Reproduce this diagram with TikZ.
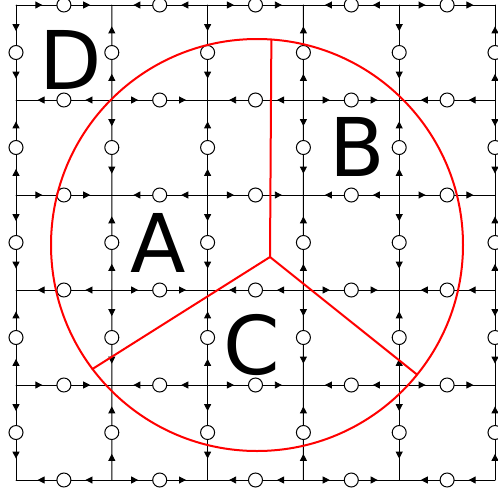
\documentclass[tikz,border=0pt]{standalone}
\usepackage{fontspec}
\setmainfont{DejaVu Sans}
\usetikzlibrary{arrows.meta,decorations.markings,backgrounds,calc}

\begin{document}
\begin{tikzpicture}[x=1pt, y=-1pt,
        site/.style={circle, draw=black, fill=white, line width=1pt, inner sep=0pt, minimum size=14pt},
        bond/.style={draw=black, line width=0.9pt, line cap=round, postaction={decorate},
            decoration={markings, mark=at position 0.55 with {\arrow{Triangle[length=7pt, width=7pt]}}}},
        cut/.style={draw=red, line width=2pt, line cap=round},
        tag/.style={font=\fontsize{81}{81}\selectfont, inner sep=0pt, anchor=base}
    ]
        \useasboundingbox (0,0) rectangle (498,496);

        % lattice vertices
        \foreach \i in {0,...,5}
            \foreach \j in {0,...,5}
                \coordinate (v-\i-\j) at ({16+95.8*\i}, {5+95*\j});

        % sites on the edges
        \foreach \i in {0,...,4}
            \foreach \j in {0,...,5} {
                \pgfmathtruncatemacro\ni{\i+1}
                \node[site] (h-\i-\j) at ($(v-\i-\j)!0.5!(v-\ni-\j)$) {};
            }
        \foreach \i in {0,...,5}
            \foreach \j in {0,...,4} {
                \pgfmathtruncatemacro\nj{\j+1}
                \node[site] (u-\i-\j) at ($(v-\i-\j)!0.5!(v-\i-\nj)$) {};
            }

        % half bonds: even vertices point out, odd vertices point in
        \begin{scope}[on background layer]
            \foreach \i in {0,...,4}
                \foreach \j in {0,...,5} {
                    \pgfmathtruncatemacro\ni{\i+1}
                    \ifodd\numexpr\i+\j\relax
                        \draw[bond] (h-\i-\j.center) -- (v-\i-\j);
                        \draw[bond] (v-\ni-\j) -- (h-\i-\j.center);
                    \else
                        \draw[bond] (v-\i-\j) -- (h-\i-\j.center);
                        \draw[bond] (h-\i-\j.center) -- (v-\ni-\j);
                    \fi
                }
            \foreach \i in {0,...,5}
                \foreach \j in {0,...,4} {
                    \pgfmathtruncatemacro\nj{\j+1}
                    \ifodd\numexpr\i+\j\relax
                        \draw[bond] (u-\i-\j.center) -- (v-\i-\j);
                        \draw[bond] (v-\i-\nj) -- (u-\i-\j.center);
                    \else
                        \draw[bond] (v-\i-\j) -- (u-\i-\j.center);
                        \draw[bond] (u-\i-\j.center) -- (v-\i-\nj);
                    \fi
                }
        \end{scope}

        % region boundary
        \node[circle, draw=red, line width=2pt, inner sep=0pt, outer sep=0pt, minimum size=412pt] (disk) at (257,245) {};
        \coordinate (hub) at (270,257);
        \draw[cut] (hub) -- (disk.86.4);
        \draw[cut] (hub) -- (disk.217.3);
        \draw[cut] (hub) -- (disk.321.7);

        \node[tag] (D) at (71,89) {D};
        \node[tag] (B) at (357,176) {B};
        \node[tag] (A) at (158,272) {A};
        \node[tag] (C) at (252,374) {C};
\end{tikzpicture}
\end{document}
